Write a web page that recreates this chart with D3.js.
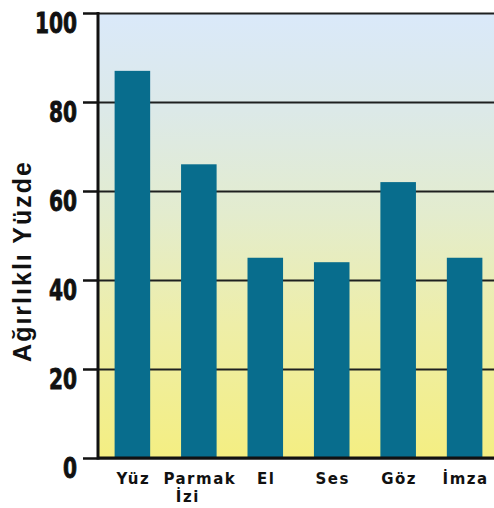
<!DOCTYPE html>
<html>
<head>
<meta charset="utf-8">
<script src="https://cdn.jsdelivr.net/npm/d3@7"></script>
<style>
  html, body { margin: 0; padding: 0; background: #fff; }
  svg { display: block; }
</style>
</head>
<body>
<svg id="chart" width="494" height="508"></svg>
<script>
// Biometric methods and their weighted percentage
const categories = ["Yüz", "Parmak İzi", "El", "Ses", "Göz", "İmza"];
const values = [87, 66, 45, 44, 62, 45];
const yTicks = [0, 20, 40, 60, 80, 100];
const yTitle = "Ağırlıklı Yüzde";

const svg = d3.select("#chart");
const W = 494;
const plot = { left: 98, right: 499, top: 13, bottom: 458 };

const x = d3.scaleBand()
  .domain(categories)
  .range([plot.left, plot.right])
  .paddingInner(0.465)
  .paddingOuter(0.25);

const y = d3.scaleLinear()
  .domain([0, 100])
  .range([plot.bottom, plot.top]);

// Background gradient: pale blue at the top fading to yellow at the bottom
const defs = svg.append("defs");
const grad = defs.append("linearGradient")
  .attr("id", "bg").attr("x1", 0).attr("y1", 0).attr("x2", 0).attr("y2", 1);
[["0%", "#dae9fa"], ["22%", "#dce9e8"], ["45%", "#e3ecce"], ["70%", "#eeeea8"], ["100%", "#f4ee82"]]
  .forEach(([o, c]) => grad.append("stop").attr("offset", o).attr("stop-color", c));

svg.append("rect")
  .attr("x", plot.left).attr("y", plot.top)
  .attr("width", W - plot.left).attr("height", plot.bottom - plot.top)
  .attr("fill", "url(#bg)");

// Horizontal gridlines
const grid = svg.append("g")
  .attr("transform", `translate(${plot.left},0)`)
  .call(d3.axisLeft(y).tickValues(yTicks).tickSize(-(W - plot.left)).tickFormat(""));
grid.select(".domain").remove();
grid.selectAll(".tick line").attr("stroke", "#1e2020").attr("stroke-width", 2);

// Bars
svg.append("g").selectAll("rect")
  .data(values)
  .join("rect")
  .attr("x", (d, i) => x(categories[i]))
  .attr("y", d => y(d))
  .attr("width", x.bandwidth())
  .attr("height", d => y(0) - y(d))
  .attr("fill", "#086d8d");

// Y axis with outward ticks and narrow, heavy numerals
const yAxis = svg.append("g")
  .attr("transform", `translate(${plot.left},0)`)
  .call(d3.axisLeft(y).tickValues(yTicks).tickSizeInner(15).tickSizeOuter(0).tickPadding(6));
yAxis.select(".domain").remove();
yAxis.selectAll(".tick line").attr("stroke", "#111").attr("stroke-width", 2.5);
yAxis.selectAll(".tick text")
  .attr("dy", null)
  .attr("x", 0)
  .attr("y", 0)
  .attr("transform", "translate(-21,19) scale(0.8,1)")
  .attr("fill", "#111")
  .attr("stroke", "#111")
  .attr("stroke-width", 0.8)
  .style("font-family", "'DejaVu Sans Condensed', 'DejaVu Sans', sans-serif")
  .style("font-weight", "bold")
  .style("font-size", "28px");

// Axis lines
svg.append("line")
  .attr("x1", plot.left).attr("x2", plot.left)
  .attr("y1", plot.top - 1).attr("y2", plot.bottom + 1.5)
  .attr("stroke", "#111").attr("stroke-width", 3);
svg.append("line")
  .attr("x1", plot.left).attr("x2", W)
  .attr("y1", plot.bottom).attr("y2", plot.bottom)
  .attr("stroke", "#111").attr("stroke-width", 3);

// Category labels (multi-word labels wrap onto a second line)
const labels = svg.append("g")
  .style("font-family", "'DejaVu Sans', Verdana, sans-serif")
  .style("font-weight", "bold")
  .style("font-size", "15px")
  .style("letter-spacing", "1.5px")
  .attr("fill", "#111");
categories.forEach(c => {
  const cx = x(c) + x.bandwidth() / 2;
  const words = c.split(" ");
  const t = labels.append("text").attr("text-anchor", "middle").attr("x", cx).attr("y", 484);
  words.forEach((w, i) => {
    t.append("tspan")
      .attr("x", i === 0 ? cx + 1 : cx - 11)
      .attr("dy", i === 0 ? 0 : 18)
      .text(w);
  });
});

// Y axis title
svg.append("text")
  .attr("transform", "translate(31,261) rotate(-90)")
  .attr("text-anchor", "middle")
  .style("font-family", "'Liberation Sans', Arial, sans-serif")
  .style("font-weight", "bold")
  .style("font-size", "25px")
  .style("letter-spacing", "2px")
  .attr("fill", "#111")
  .text(yTitle);
</script>
</body>
</html>
